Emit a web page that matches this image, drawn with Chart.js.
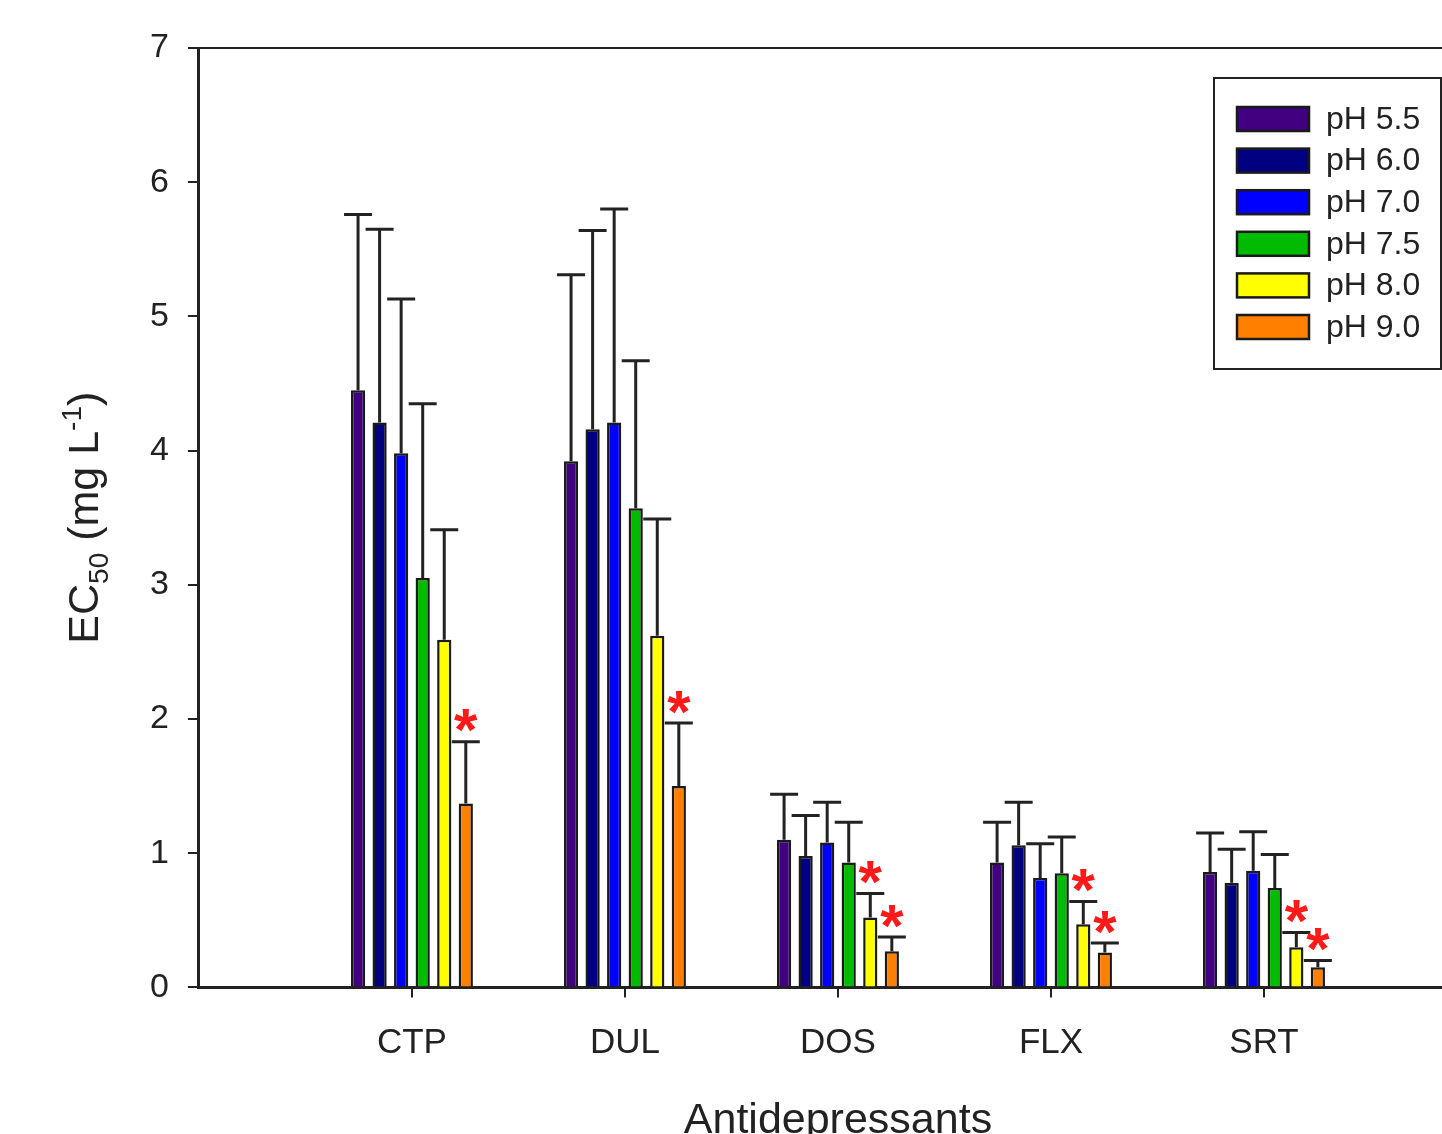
<!DOCTYPE html>
<html><head><meta charset="utf-8">
<script src="https://cdn.jsdelivr.net/npm/chart.js@4.4.0/dist/chart.umd.min.js"></script>
<style>
html,body{margin:0;padding:0;background:#fff;overflow:hidden;width:1442px;height:1134px;}
#wrap{position:absolute;left:0;top:0;width:1502px;height:1154px;}
</style></head><body>
<div id="wrap"><canvas id="c" width="1502" height="1154"></canvas></div>
<script>
// ---- data ----
const categories = ['CTP', 'DUL', 'DOS', 'FLX', 'SRT'];
const seriesLabels = ['pH 5.5', 'pH 6.0', 'pH 7.0', 'pH 7.5', 'pH 8.0', 'pH 9.0'];
const ph55 = [4.45, 3.92, 1.10, 0.93, 0.86];
const ph60 = [4.21, 4.16, 0.98, 1.06, 0.78];
const ph70 = [3.98, 4.21, 1.08, 0.815, 0.87];
const ph75 = [3.05, 3.57, 0.93, 0.85, 0.74];
const ph80 = [2.59, 2.62, 0.52, 0.47, 0.30];
const ph90 = [1.37, 1.50, 0.27, 0.26, 0.15];
const sd55 = [1.31, 1.39, 0.34, 0.30, 0.29];
const sd60 = [1.44, 1.48, 0.30, 0.32, 0.25];
const sd70 = [1.15, 1.59, 0.30, 0.255, 0.29];
const sd75 = [1.30, 1.10, 0.30, 0.27, 0.25];
const sd80 = [0.82, 0.87, 0.18, 0.17, 0.11];
const sd90 = [0.46, 0.47, 0.105, 0.07, 0.05];
const sig55 = [false, false, false, false, false];
const sig60 = [false, false, false, false, false];
const sig70 = [false, false, false, false, false];
const sig75 = [false, false, false, false, false];
const sig80 = [false, false, true, true, true];
const sig90 = [true, true, true, true, true];
const yTicks = [0, 1, 2, 3, 4, 5, 6, 7];
const colors = ['#400080', '#000080', '#0000ff', '#00bb00', '#ffff00', '#ff8000'];

// ---- build ----
const labels = [''].concat(categories, ['']);
const pad = arr => [null].concat(arr, [null]);
const means = [ph55, ph60, ph70, ph75, ph80, ph90];
const sds = [sd55, sd60, sd70, sd75, sd80, sd90];
const sigs = [sig55, sig60, sig70, sig75, sig80, sig90];
const datasets = means.map((m, i) => ({
  label: seriesLabels[i],
  data: pad(m),
  sd: pad(sds[i]),
  sig: pad(sigs[i]),
  backgroundColor: colors[i],
  borderColor: '#1a1a1a',
  borderWidth: 2.5,
  categoryPercentage: 0.607,
  barPercentage: 0.66
}));

const FONT = '"Liberation Sans", Arial, sans-serif';
const INK = '#222';

const errorPlugin = {
  id: 'errbars',
  afterDatasetsDraw(chart) {
    const ctx = chart.ctx, ys = chart.scales.y;
    ctx.save();
    chart.data.datasets.forEach((ds, i) => {
      const meta = chart.getDatasetMeta(i);
      meta.data.forEach((el, j) => {
        const v = ds.data[j];
        if (v === null || v === undefined) return;
        const top = ys.getPixelForValue(v + ds.sd[j]);
        ctx.strokeStyle = INK; ctx.lineWidth = 3;
        ctx.beginPath();
        ctx.moveTo(el.x, el.y); ctx.lineTo(el.x, top);
        ctx.moveTo(el.x - 14, top); ctx.lineTo(el.x + 14, top);
        ctx.stroke();
        if (ds.sig[j]) {
          ctx.font = 'bold 60px ' + FONT;
          ctx.fillStyle = '#ff1a1a';
          ctx.textAlign = 'center';
          ctx.textBaseline = 'alphabetic';
          const m = ctx.measureText('*');
          const cy = top - 21;
          ctx.fillText('*', el.x, cy + (m.actualBoundingBoxAscent - m.actualBoundingBoxDescent) / 2);
        }
      });
    });
    ctx.restore();
  }
};

const decorPlugin = {
  id: 'decor',
  afterDraw(chart) {
    const ctx = chart.ctx, a = chart.chartArea;
    ctx.save();
    ctx.strokeStyle = INK; ctx.lineWidth = 2;
    ctx.beginPath();
    ctx.moveTo(a.left, a.top); ctx.lineTo(a.right, a.top); ctx.lineTo(a.right, a.bottom);
    ctx.stroke();
    // y title with sub/superscript
    const parts = [
      {t: 'EC', s: 43, dy: 0},
      {t: '50', s: 28, dy: 10},
      {t: ' (mg L', s: 43, dy: 0},
      {t: '-1', s: 28, dy: -17},
      {t: ')', s: 43, dy: 0}
    ];
    let total = 0;
    parts.forEach(p => { ctx.font = p.s + 'px ' + FONT; p.w = ctx.measureText(p.t).width; total += p.w; });
    ctx.translate(98, (a.top + a.bottom) / 2);
    ctx.rotate(-Math.PI / 2);
    ctx.fillStyle = INK; ctx.textAlign = 'left'; ctx.textBaseline = 'alphabetic';
    let x = -total / 2;
    parts.forEach(p => { ctx.font = p.s + 'px ' + FONT; ctx.fillText(p.t, x, p.dy); x += p.w; });
    ctx.restore();
    // legend
    ctx.save();
    const bx = 1214, by = 78, bw = 227, bh = 291;
    ctx.fillStyle = '#fff'; ctx.fillRect(bx, by, bw, bh);
    ctx.strokeStyle = INK; ctx.lineWidth = 2; ctx.strokeRect(bx, by, bw, bh);
    chart.data.datasets.forEach((ds, i) => {
      const yc = 119 + i * 41.6;
      ctx.fillStyle = ds.backgroundColor;
      ctx.fillRect(1237, yc - 12, 72, 24);
      ctx.strokeStyle = '#1a1a1a'; ctx.lineWidth = 2.5;
      ctx.strokeRect(1237, yc - 12, 72, 24);
      ctx.fillStyle = INK; ctx.font = '32px ' + FONT;
      ctx.textAlign = 'left'; ctx.textBaseline = 'middle';
      ctx.fillText(ds.label, 1326, yc + 1);
    });
    ctx.restore();
  }
};

new Chart(document.getElementById('c'), {
  type: 'bar',
  data: { labels: labels, datasets: datasets },
  options: {
    responsive: false,
    animation: false,
    layout: { padding: { left: 131, top: 48, right: 7, bottom: 0 } },
    plugins: { legend: { display: false }, tooltip: { enabled: false } },
    scales: {
      x: {
        type: 'category',
        offset: false,
        grid: { offset: false, drawOnChartArea: false, drawTicks: true, tickLength: 10, lineWidth: 2,
                color: c => (c.index === 0 ? 'rgba(0,0,0,0)' : INK) },
        border: { display: true, color: INK, width: 3 },
        ticks: { color: INK, font: { family: FONT, size: 35 }, padding: 25, maxRotation: 0, autoSkip: false },
        title: { display: true, text: 'Antidepressants', color: INK, font: { family: FONT, size: 43 }, padding: { top: 6, bottom: 7 } }
      },
      y: {
        min: 0, max: 7,
        afterBuildTicks(scale) { scale.ticks = yTicks.map(v => ({ value: v })); },
        grid: { drawOnChartArea: false, drawTicks: true, tickLength: 11, color: INK, lineWidth: 2 },
        border: { display: true, color: INK, width: 3 },
        ticks: { color: INK, font: { family: FONT, size: 34 }, padding: 19 }
      }
    }
  },
  plugins: [errorPlugin, decorPlugin]
});
</script>
</body></html>
